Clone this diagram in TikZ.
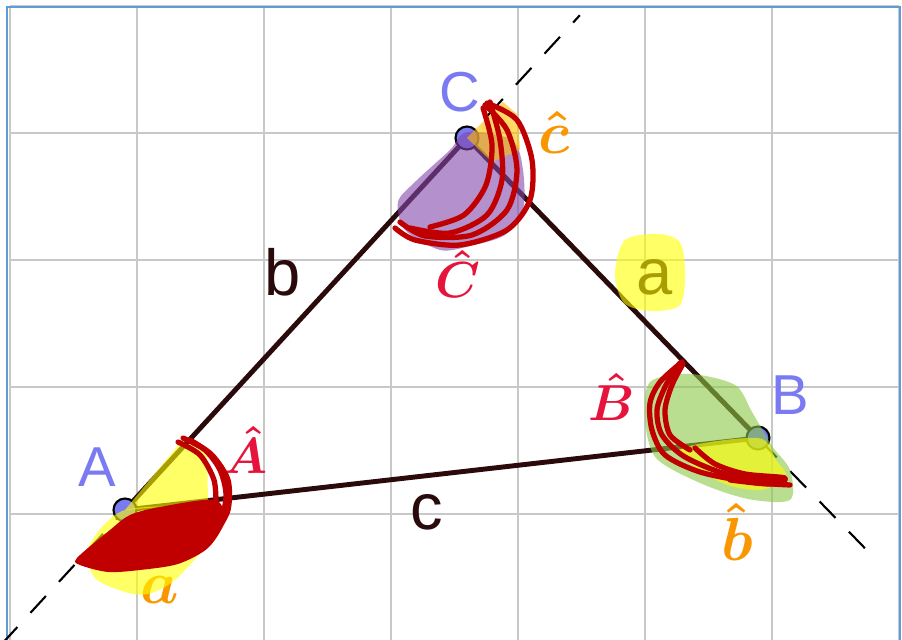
\documentclass[tikz,border=0pt]{standalone}
\usepackage{amsmath,amssymb}
\usepackage{fontspec}
\setmainfont{Liberation Sans}
\usepackage{tikz}
\usetikzlibrary{calc}
\definecolor{segcol}{RGB}{42,10,10}
\definecolor{ptcol}{RGB}{122,122,242}
\definecolor{gridcol}{RGB}{200,200,200}
\definecolor{framecol}{RGB}{95,155,215}
\definecolor{angred}{RGB}{230,20,60}
\definecolor{angorange}{RGB}{250,150,0}
\definecolor{scrib}{RGB}{192,0,0}
\definecolor{hlyellow}{RGB}{255,255,0}
\definecolor{hlgreen}{RGB}{140,200,70}
\definecolor{hlpurple}{RGB}{130,70,170}
\definecolor{hlorange}{RGB}{255,190,0}
\tikzset{
  pt/.style={circle, fill=ptcol, draw=black, line width=0.6pt, minimum size=0.23cm, inner sep=0pt},
  seg/.style={segcol, line width=1.4pt},
  extline/.style={black, line width=0.6pt, dash pattern=on 6.5pt off 5.5pt},
  gridline/.style={gridcol, line width=0.8pt},
  vlabel/.style={text=ptcol, font=\fontsize{16}{16}\selectfont},
  slabel/.style={text=segcol, font=\fontsize{18.5}{18.5}\selectfont},
  angin/.style={text=angred, font=\fontsize{15.5}{15.5}\selectfont},
  angout/.style={text=angorange, font=\fontsize{17.5}{17.5}\selectfont},
  hl/.style={fill=#1, fill opacity=0.6},
  scribble/.style={draw=scrib, line width=1.5pt, line cap=round, line join=round}
}

\begin{document}
\begin{tikzpicture}[x=0.01cm,y=0.01cm]
  \useasboundingbox (0,0) rectangle (902,640);
  \clip (0,0) rectangle (902,640);
  \fill[white] (0,0) rectangle (902,640);

  % Raster
  \foreach \gx in {10,137,...,899} \draw[gridline] (\gx,0) -- (\gx,634);
  \foreach \gy in {126,253,...,634} \draw[gridline] (10,\gy) -- (899,\gy);
  \draw[framecol, line width=0.7pt] (7,-5) -- (7,633) -- (900,633) -- (900,-5);

  % Eckpunkte
  \coordinate (A) at (125,130);
  \coordinate (B) at (758,202);
  \coordinate (C) at (467,502);

  % Verlaengerungen
  \coordinate (E1) at ($(A)!-0.36!(C)$);
  \coordinate (E2) at ($(A)!1.33!(C)$);
  \coordinate (E3) at ($(C)!1.4!(B)$);
  \draw[extline] (E1) -- (E2);
  \draw[extline] (C) -- (E3);

  % Seiten
  \draw[seg] (A) -- (B);
  \draw[seg] (B) -- (C);
  \draw[seg] (C) -- (A);

  \foreach \p in {A,B,C} \node[pt] (p\p) at (\p) {};

  % Beschriftung
  \node[vlabel] (lA) at (97,173) {A};
  \node[vlabel] (lB) at (790,245) {B};
  \node[vlabel] (lC) at (460,548) {C};
  \node[slabel] (la) at (655,363) {a};
  \node[slabel] (lb) at (283,368) {b};
  \node[slabel] (lc) at (427,128) {c};
  \node[angin] (wA) at (246,190) {$\boldsymbol{\hat{A}}$};
  \node[angin] (wB) at (612,243) {$\boldsymbol{\hat{B}}$};
  \node[angin] (wC) at (458,366) {$\boldsymbol{\hat{C}}$};
  \node[angout] (xc) at (554,508) {$\boldsymbol{\hat{c}}$};
  \node[angout] (xb) at (737,108) {$\boldsymbol{\hat{b}}$};
  \node[angout, font=\fontsize{18.5}{18.5}\selectfont] (xa) at (160,50) {$\boldsymbol{a}$};

  % Markierungen
  \fill[hl=hlyellow] plot[smooth cycle] coordinates {(625,400) (660,406) (681,396) (685,360) (679,334) (650,329) (624,337) (615,366)};
  \fill[hl=hlyellow] (A) -- (180,197) -- (207,193) -- (208,137) -- cycle;
  \fill[hl=hlyellow] plot[smooth cycle] coordinates {(125,130) (88,92) (95,62) (125,48) (148,46) (175,60) (210,100) (215,130)};
  \fill[hl=hlgreen] plot[smooth cycle] coordinates {(650,258) (690,266) (735,255) (752,228) (772,194) (790,170) (790,140) (748,141) (700,157) (656,182) (645,220)};
  \fill[hl=hlyellow] plot[smooth cycle] coordinates {(680,190) (758,202) (776,180) (786,163) (760,150) (720,158)};
  \fill[hl=hlpurple] plot[smooth cycle] coordinates {(467,508) (512,500) (523,470) (523,430) (505,405) (470,394) (440,390) (405,410) (398,438) (415,458) (450,490)};
  \fill[hl=hlorange] (C) -- (503,538) -- (518,525) -- (520,490) -- (492,478) -- cycle;

  % Kritzeleien
  \fill[scrib] plot[smooth cycle] coordinates {(77,82) (110,110) (130,125) (160,133) (215,140) (224,118) (208,92) (178,76) (140,70) (108,68) (80,75)};
  \draw[scribble] plot[smooth] coordinates {(183,202) (205,190) (220,170) (226,145) (220,118) (200,96)};
  \draw[scribble] plot[smooth] coordinates {(190,200) (212,185) (228,160) (228,130) (215,106)};
  \draw[scribble] plot[smooth] coordinates {(178,198) (200,185) (214,160) (216,135)};
  \draw[scribble] plot[smooth] coordinates {(487,537) (517,520) (532,480) (530,440) (507,410) (460,395) (415,400) (395,412)};
  \draw[scribble] plot[smooth] coordinates {(485,535) (507,510) (517,470) (507,430) (472,405) (425,404) (400,418)};
  \draw[scribble] plot[smooth] coordinates {(490,538) (500,500) (502,460) (487,425) (450,407) (410,412)};
  \draw[scribble] plot[smooth] coordinates {(483,532) (492,495) (486,455) (464,425) (430,413)};
  \draw[scribble] plot[smooth] coordinates {(682,278) (660,258) (650,237) (652,210) (665,185) (700,168) (750,158) (790,155)};
  \draw[scribble] plot[smooth] coordinates {(680,277) (666,255) (657,230) (662,205) (685,183) (730,165) (785,160)};
  \draw[scribble] plot[smooth] coordinates {(683,276) (672,255) (665,230) (670,205) (690,190)};
  \draw[scribble] plot[smooth] coordinates {(695,192) (715,176) (745,166) (785,162) (770,156) (730,160)};
\end{tikzpicture}
\end{document}
